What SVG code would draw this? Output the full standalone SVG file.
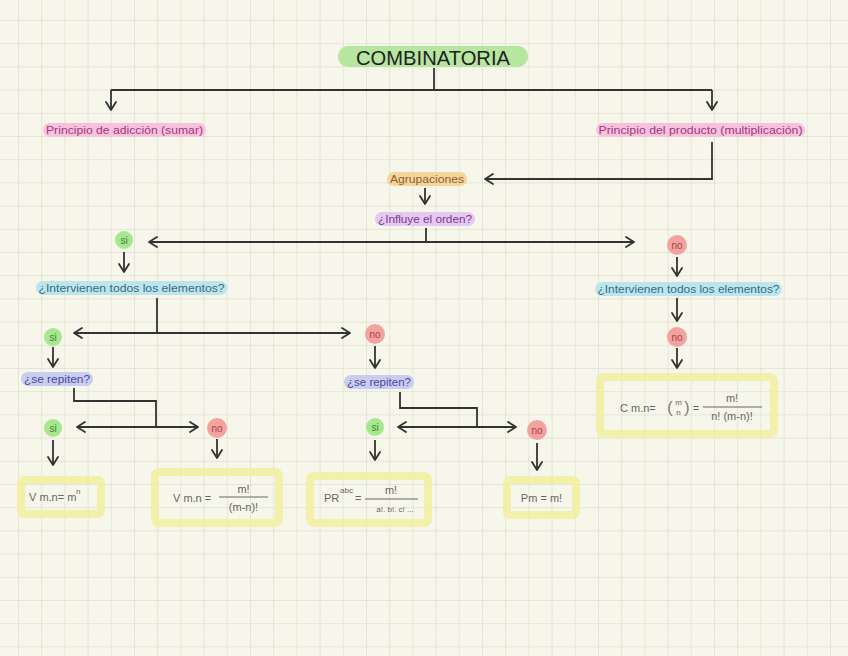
<svg xmlns="http://www.w3.org/2000/svg" width="848" height="656" viewBox="0 0 848 656">
<defs>
<pattern id="grid" patternUnits="userSpaceOnUse" x="18" y="20" width="23.2" height="23.2">
<path d="M0,0 H23.2 M0,0 V23.2" fill="none" stroke="#d4d4c6" stroke-width="1"/>
</pattern>
<marker id="ah" viewBox="0 0 12 12" refX="10" refY="6" markerWidth="12" markerHeight="12" markerUnits="userSpaceOnUse" orient="auto-start-reverse">
<path d="M2,1 L10,6 L2,11" fill="none" stroke="#333" stroke-width="1.8" stroke-linecap="round" stroke-linejoin="round"/>
</marker>
<style>
text{font-family:"Liberation Sans","Open Sans",sans-serif;}
.lbl{font-size:11px;text-anchor:middle;dominant-baseline:central;}
.hl{stroke:none;}
.conn{fill:none;stroke:#333;stroke-width:1.8;stroke-linejoin:miter;}
.arr{marker-end:url(#ah);}
.dbl{marker-start:url(#ah);marker-end:url(#ah);}
.si circle{fill:#a6e88e;}
.si text{fill:#4a7a3a;font-size:10px;text-anchor:middle;dominant-baseline:central;}
.no circle{fill:#f2a3a0;}
.no text{fill:#a84444;font-size:10px;text-anchor:middle;dominant-baseline:central;}
.box{fill:none;stroke:#f2efa0;stroke-width:8;opacity:0.85;}
.f{fill:#666;font-size:11px;}
.fs{fill:#666;font-size:8px;}
.fl{stroke:#666;stroke-width:1;}
</style>
</defs>
<rect width="848" height="656" fill="#f7f6ea"/>
<rect width="848" height="656" fill="url(#grid)"/>

<g id="connectors">
<path class="conn" d="M434,68 V90"/>
<path class="conn" d="M111,90 H712"/>
<path class="conn arr" d="M111,90 V110"/>
<path class="conn arr" d="M712,90 V110"/>
<path class="conn arr" d="M712,142 V179 H485"/>
<path class="conn arr" d="M425,188 V204"/>
<path class="conn" d="M426,228 V242"/>
<path class="conn dbl" d="M149,242 H634"/>
<path class="conn arr" d="M124,252 V272"/>
<path class="conn arr" d="M677,257 V276"/>
<path class="conn arr" d="M677,298 V321"/>
<path class="conn arr" d="M677,348 V368"/>
<path class="conn" d="M157,298 V333"/>
<path class="conn dbl" d="M74,333 H350"/>
<path class="conn arr" d="M53,347 V367"/>
<path class="conn arr" d="M375,346 V368"/>
<path class="conn" d="M74,388 V401 H156 V427"/>
<path class="conn dbl" d="M77,427 H198"/>
<path class="conn" d="M400,392 V408 H477 V427"/>
<path class="conn dbl" d="M398,427 H516"/>
<path class="conn arr" d="M53,440 V465"/>
<path class="conn arr" d="M217,439 V458"/>
<path class="conn arr" d="M375,440 V460"/>
<path class="conn arr" d="M537,443 V470"/>
</g>

<g id="title">
<rect class="hl" x="338" y="46" width="190" height="21" rx="10" fill="#b6e6a0"/>
<text x="433" y="57" font-size="21" fill="#222" text-anchor="middle" dominant-baseline="central" textLength="154" lengthAdjust="spacingAndGlyphs">COMBINATORIA</text>
</g>

<g id="principio-adicion">
<rect class="hl" x="43" y="123" width="163" height="14" rx="7" fill="#f6c2de"/>
<text class="lbl" x="124.5" y="130" fill="#a0387c" textLength="157" lengthAdjust="spacingAndGlyphs">Principio de adicción (sumar)</text>
</g>

<g id="principio-producto">
<rect class="hl" x="596" y="123" width="209" height="14" rx="7" fill="#f6c2de"/>
<text class="lbl" x="700.5" y="130" fill="#a0387c" textLength="204" lengthAdjust="spacingAndGlyphs">Principio del producto (multiplicación)</text>
</g>

<g id="agrupaciones">
<rect class="hl" x="387" y="172" width="80" height="14" rx="7" fill="#f6d59c"/>
<text class="lbl" x="427" y="179" fill="#8a6430" textLength="74" lengthAdjust="spacingAndGlyphs">Agrupaciones</text>
</g>

<g id="influye">
<rect class="hl" x="375" y="212" width="100" height="14" rx="7" fill="#e6c8f0"/>
<text class="lbl" x="425" y="219" fill="#7a3a90" textLength="94" lengthAdjust="spacingAndGlyphs">¿Influye el orden?</text>
</g>

<g id="si-1" class="si"><circle cx="124" cy="240" r="9"/><text x="124" y="240">si</text></g>
<g id="no-1" class="no"><circle cx="677" cy="245" r="10"/><text x="677" y="245">no</text></g>

<g id="intervienen-left">
<rect class="hl" x="36" y="281" width="191" height="14" rx="7" fill="#bce6ee"/>
<text class="lbl" x="131.5" y="288" fill="#3a6a80" textLength="186" lengthAdjust="spacingAndGlyphs">¿Intervienen todos los elementos?</text>
</g>

<g id="intervienen-right">
<rect class="hl" x="595" y="282" width="187" height="14" rx="7" fill="#bce6ee"/>
<text class="lbl" x="688.5" y="289" fill="#3a6a80" textLength="182" lengthAdjust="spacingAndGlyphs">¿Intervienen todos los elementos?</text>
</g>

<g id="si-2" class="si"><circle cx="53" cy="337" r="9"/><text x="53" y="337">si</text></g>
<g id="no-2" class="no"><circle cx="375" cy="334" r="10"/><text x="375" y="334">no</text></g>
<g id="no-3" class="no"><circle cx="677" cy="337" r="10"/><text x="677" y="337">no</text></g>

<g id="repiten-left">
<rect class="hl" x="21" y="372" width="72" height="14" rx="7" fill="#c9cdf2"/>
<text class="lbl" x="57" y="379" fill="#4a4a9a" textLength="66" lengthAdjust="spacingAndGlyphs">¿se repiten?</text>
</g>

<g id="repiten-mid">
<rect class="hl" x="344" y="375" width="70" height="14" rx="7" fill="#c9cdf2"/>
<text class="lbl" x="379" y="382" fill="#4a4a9a" textLength="64" lengthAdjust="spacingAndGlyphs">¿se repiten?</text>
</g>

<g id="si-3" class="si"><circle cx="53" cy="428" r="9"/><text x="53" y="428">si</text></g>
<g id="no-4" class="no"><circle cx="217" cy="428" r="10"/><text x="217" y="428">no</text></g>
<g id="si-4" class="si"><circle cx="375" cy="427" r="9"/><text x="375" y="427">si</text></g>
<g id="no-5" class="no"><circle cx="537" cy="430" r="10"/><text x="537" y="430">no</text></g>

<g id="box-vmn-rep">
<rect class="box" x="21" y="480" width="80" height="34" rx="3"/>
<text class="f" x="29" y="501">V m.n= m</text>
<text class="fs" x="76" y="494">n</text>
</g>

<g id="box-vmn">
<rect class="box" x="155" y="472" width="124" height="51" rx="4"/>
<text class="f" x="173" y="502">V m.n =</text>
<line class="fl" x1="219" y1="497" x2="268" y2="497"/>
<text class="f" x="243.5" y="493" text-anchor="middle">m!</text>
<text class="f" x="243.5" y="511" text-anchor="middle">(m-n)!</text>
</g>

<g id="box-pr">
<rect class="box" x="310" y="476" width="118" height="47" rx="4"/>
<text class="f" x="324" y="502">PR</text>
<text class="fs" x="340" y="493">abc</text>
<text class="f" x="355" y="502">=</text>
<line class="fl" x1="365" y1="499" x2="418" y2="499"/>
<text class="f" x="391" y="494" text-anchor="middle">m!</text>
<text class="fs" x="395" y="512" text-anchor="middle">a!. b!. c! ...</text>
</g>

<g id="box-pm">
<rect class="box" x="507" y="480" width="69" height="35" rx="3"/>
<text class="f" x="541.5" y="502" text-anchor="middle">Pm = m!</text>
</g>

<g id="box-c">
<rect class="box" x="600" y="377" width="174" height="57" rx="4"/>
<text class="f" x="620" y="412">C m.n=</text>
<text x="670" y="413" font-size="16" fill="#777" text-anchor="middle">(</text>
<text x="687" y="413" font-size="16" fill="#777" text-anchor="middle">)</text>
<text class="fs" x="678.5" y="405" text-anchor="middle">m</text>
<text class="fs" x="678.5" y="415" text-anchor="middle">n</text>
<text class="f" x="696" y="412" text-anchor="middle">=</text>
<line class="fl" x1="703" y1="407" x2="762" y2="407"/>
<text class="f" x="732" y="402" text-anchor="middle">m!</text>
<text class="f" x="732" y="420" text-anchor="middle">n! (m-n)!</text>
</g>
</svg>
